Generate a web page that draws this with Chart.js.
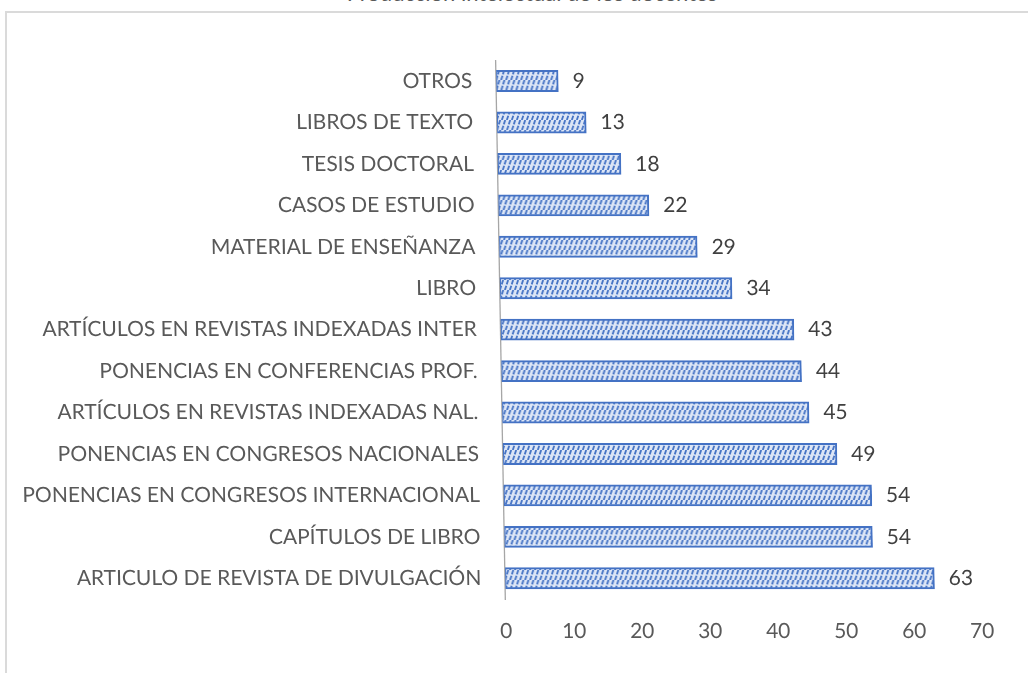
<!DOCTYPE html>
<html>
<head>
<meta charset="utf-8">
<script src="https://cdn.jsdelivr.net/npm/chart.js@4/dist/chart.umd.min.js"></script>
<style>
  html, body { margin: 0; padding: 0; background: #ffffff; overflow: hidden; }
  body { width: 1028px; height: 673px; position: relative; }
  #box { position: absolute; left: 5px; top: 11px; width: 1100px; height: 720px; border: 2px solid #dadada; box-sizing: border-box; }
  #title { position: absolute; left: 0; top: -18px; width: 1064px; text-align: center; font: 22px Lato, sans-serif; color: #595959; line-height: 22px; white-space: nowrap; }
  #c { position: absolute; left: 0; top: 0; }
</style>
</head>
<body>
<div id="box"></div>
<div id="title">Producción intelectual de los docentes</div>
<canvas id="c" width="1028" height="673"></canvas>
<script>
// Categories listed bottom-to-top as in the original chart
const categories = [
  'ARTICULO DE REVISTA DE DIVULGACIÓN',
  'CAPÍTULOS DE LIBRO',
  'PONENCIAS EN CONGRESOS INTERNACIONAL',
  'PONENCIAS EN CONGRESOS NACIONALES',
  'ARTÍCULOS EN REVISTAS INDEXADAS NAL.',
  'PONENCIAS EN CONFERENCIAS PROF.',
  'ARTÍCULOS EN REVISTAS INDEXADAS INTER',
  'LIBRO',
  'MATERIAL DE ENSEÑANZA',
  'CASOS DE ESTUDIO',
  'TESIS DOCTORAL',
  'LIBROS DE TEXTO',
  'OTROS'
];
const values = [63, 54, 54, 49, 45, 44, 43, 34, 29, 22, 18, 13, 9];
const xTicks = [0, 10, 20, 30, 40, 50, 60, 70];

const FONT = 'Lato, sans-serif';
const SHEAR = 0.018;   // slight slant seen in the original picture
const SHEAR_Y = 340;

function makePattern() {
  const c = document.createElement('canvas');
  c.width = 5; c.height = 10;
  const g = c.getContext('2d');
  g.fillStyle = '#dde6f6';
  g.fillRect(0, 0, 5, 10);
  g.strokeStyle = '#4472c4';
  g.lineWidth = 1.8;
  g.lineCap = 'butt';
  g.beginPath();
  g.moveTo(0.8, 10); g.lineTo(2.3, 5.8);
  g.moveTo(2.7, 4.4); g.lineTo(4.2, 0);
  g.stroke();
  return document.getElementById('c').getContext('2d').createPattern(c, 'repeat');
}

const shearPlugin = {
  id: 'shear',
  beforeDraw(chart) {
    const ctx = chart.ctx;
    ctx.save();
    ctx.transform(1, 0, SHEAR, 1, -SHEAR * SHEAR_Y, 0);
  },
  afterDraw(chart) {
    chart.ctx.restore();
  }
};

const valueLabels = {
  id: 'valueLabels',
  afterDatasetsDraw(chart) {
    const ctx = chart.ctx;
    ctx.save();
    ctx.font = '21px ' + FONT;
    ctx.fillStyle = '#404040';
    ctx.textAlign = 'left';
    ctx.textBaseline = 'middle';
    const meta = chart.getDatasetMeta(0);
    meta.data.forEach((bar, i) => {
      ctx.fillText(String(values[i]), bar.x + 15, bar.y);
    });
    ctx.restore();
  }
};

new Chart(document.getElementById('c'), {
  type: 'bar',
  data: {
    labels: categories,
    datasets: [{
      data: values,
      backgroundColor: makePattern(),
      borderColor: '#4472c4',
      borderWidth: 2,
      borderSkipped: false,
      inflateAmount: 1,
      barPercentage: 0.48,
      categoryPercentage: 1
    }]
  },
  options: {
    indexAxis: 'y',
    responsive: false,
    animation: false,
    layout: { padding: { left: 0, right: 51, top: 60.3, bottom: 0 } },
    plugins: { legend: { display: false }, title: { display: false }, tooltip: { enabled: false } },
    scales: {
      x: {
        min: 0, max: 70,
        afterBuildTicks(scale) { scale.ticks = xTicks.map(v => ({ value: v })); },
        afterFit(scale) { scale.height = 74; },
        grid: { display: false, drawTicks: false },
        border: { display: false },
        ticks: { padding: 20, color: '#595959', font: { family: FONT, size: 21 } }
      },
      y: {
        reverse: true,
        afterFit(scale) { scale.width = 501; },
        grid: { display: false, drawTicks: false },
        border: { display: true, color: '#a6a6a6', width: 1.3 },
        ticks: { padding: 24, color: '#595959', font: { family: FONT, size: 21 }, autoSkip: false }
      }
    }
  },
  plugins: [shearPlugin, valueLabels]
});
</script>
</body>
</html>
